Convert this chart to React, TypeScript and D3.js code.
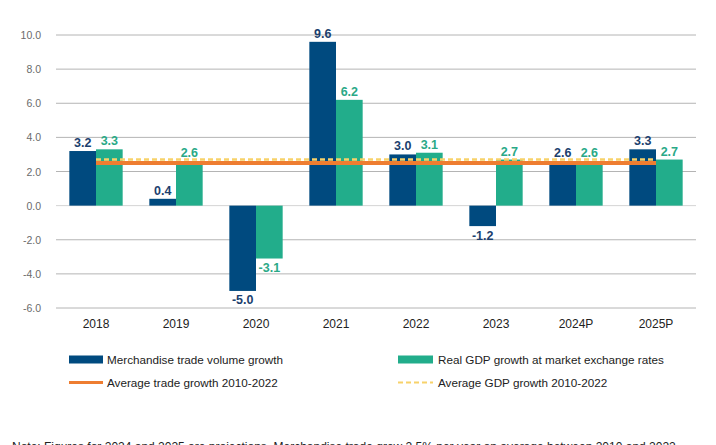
import React from "react";
import * as d3 from "d3";

const categories = ["2018", "2019", "2020", "2021", "2022", "2023", "2024P", "2025P"];
const tradeGrowth = [3.2, 0.4, -5.0, 9.6, 3.0, -1.2, 2.6, 3.3];
const gdpGrowth = [3.3, 2.6, -3.1, 6.2, 3.1, 2.7, 2.6, 2.7];
const avgTrade = 2.5;
const avgGdp = 2.7;
const yTicks = [-6, -4, -2, 0, 2, 4, 6, 8, 10];
const seriesNames = ["Merchandise trade volume growth", "Real GDP growth at market exchange rates"];
const lineNames = ["Average trade growth 2010-2022", "Average GDP growth 2010-2022"];
const note = "Note: Figures for 2024 and 2025 are projections. Merchandise trade grew 2.5% per year on average between 2010 and 2022.";

const NAVY = "#004A7F";
const TEAL = "#22AD8B";
const NAVY_LABEL = "#1C3F6E";
const TEAL_LABEL = "#2AA987";
const ORANGE = "#EE7D31";
const YELLOW = "#F7D26A";
const FONT = "'Liberation Sans', Arial, sans-serif";

export default function App() {
  const left = 56, right = 696;
  const x0 = d3.scaleBand<string>().domain(categories).range([left, right]);
  const x1 = d3.scaleBand<string>().domain(["t", "g"]).range([0, x0.bandwidth()]).paddingOuter(0.5).paddingInner(0);
  const y = d3.scaleLinear().domain([-6, 10]).range([308, 35]);
  const bw = x1.bandwidth();
  const firstC = x0(categories[0])! + x0.bandwidth() / 2;
  const lastC = x0(categories[categories.length - 1])! + x0.bandwidth() / 2;

  const label = (v: number, cx: number, color: string, key: string) => (
    <text key={key} x={cx} y={v >= 0 ? y(v) - 4 : y(v) + 13.5} textAnchor="middle"
      fontFamily={FONT} fontSize={12.5} fontWeight="bold" fill={color}>
      {v.toFixed(1)}
    </text>
  );

  return (
    <svg width={716} height={445} style={{ position: "absolute", left: 0, top: 0, background: "#fff" }}>
      {yTicks.map((t) => (
        <g key={t}>
          <line x1={left} x2={right} y1={y(t)} y2={y(t)} stroke={t === 0 ? "#d4d4d4" : "#b4b4b4"} strokeWidth={1} />
          <text x={41} y={y(t) + 4} textAnchor="end" fontFamily={FONT} fontSize={10.5} fill="#6b6b6b">
            {t.toFixed(1)}
          </text>
        </g>
      ))}
      {categories.map((c, i) => {
        const bx = x0(c)!;
        const tx = bx + x1("t")!;
        const gx = bx + x1("g")!;
        const tv = tradeGrowth[i];
        const gv = gdpGrowth[i];
        return (
          <g key={c}>
            <rect x={tx} width={bw} y={Math.min(y(tv), y(0))} height={Math.abs(y(tv) - y(0))} fill={NAVY} />
            <rect x={gx} width={bw} y={Math.min(y(gv), y(0))} height={Math.abs(y(gv) - y(0))} fill={TEAL} />
          </g>
        );
      })}
      <line x1={firstC} x2={lastC} y1={y(avgTrade)} y2={y(avgTrade)} stroke={ORANGE} strokeWidth={4} />
      <line x1={firstC} x2={lastC} y1={y(avgGdp)} y2={y(avgGdp)} stroke={YELLOW} strokeWidth={2.5} strokeDasharray="5,3" />
      {categories.map((c, i) => {
        const bx = x0(c)!;
        return (
          <g key={"l" + c}>
            {label(tradeGrowth[i], bx + x1("t")! + bw / 2, NAVY_LABEL, "t")}
            {label(gdpGrowth[i], bx + x1("g")! + bw / 2, TEAL_LABEL, "g")}
            <text x={bx + x0.bandwidth() / 2} y={327.5} textAnchor="middle" fontFamily={FONT} fontSize={12} fill="#222">
              {c}
            </text>
          </g>
        );
      })}
      {/* legend */}
      <rect x={69} y={355.5} width={34} height={8} fill={NAVY} />
      <text x={107} y={363.5} fontFamily={FONT} fontSize={11.7} fill="#222">{seriesNames[0]}</text>
      <rect x={398} y={355.5} width={35} height={8} fill={TEAL} />
      <text x={438} y={363.5} fontFamily={FONT} fontSize={11.7} fill="#222">{seriesNames[1]}</text>
      <line x1={69} x2={103} y1={382.5} y2={382.5} stroke={ORANGE} strokeWidth={3} />
      <text x={107} y={386.5} fontFamily={FONT} fontSize={11.7} fill="#222">{lineNames[0]}</text>
      <line x1={398} x2={433} y1={382.5} y2={382.5} stroke={YELLOW} strokeWidth={2} strokeDasharray="5,3" />
      <text x={438} y={386.5} fontFamily={FONT} fontSize={11.7} fill="#222">{lineNames[1]}</text>
      <text x={12} y={450.5} fontFamily={FONT} fontSize={12} fill="#222">{note}</text>
    </svg>
  );
}
